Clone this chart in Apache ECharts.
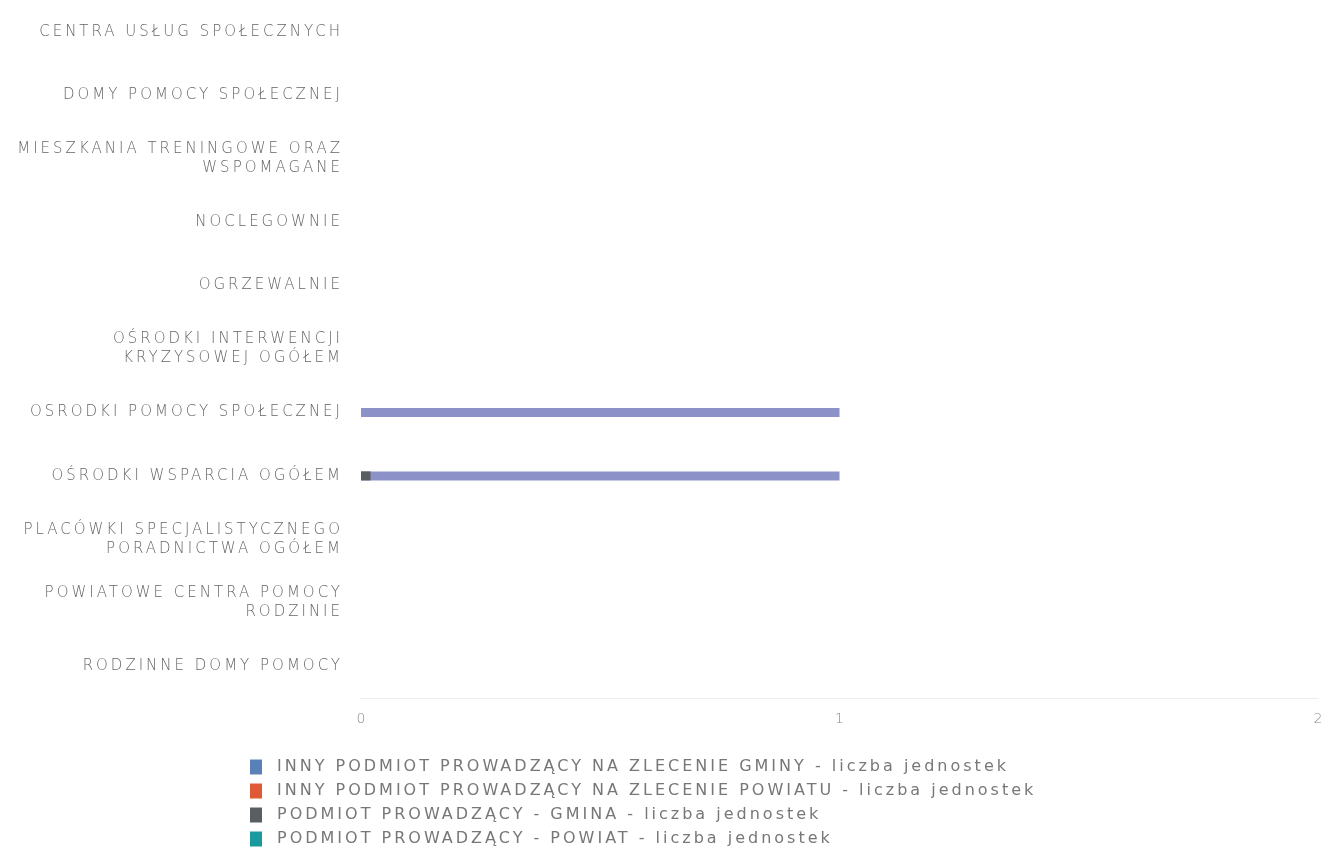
<!DOCTYPE html>
<html>
<head>
<meta charset="utf-8">
<script src="https://cdn.jsdelivr.net/npm/echarts@6/dist/echarts.min.js"></script>
<style>html,body{margin:0;padding:0;background:#fff}#c{width:1326px;height:850px}</style>
</head>
<body>
<div id="c"></div>
<script>
(function () {
  const proto = CanvasRenderingContext2D.prototype;
  const origFill = proto.fillText;
  proto.fillText = function (txt) {
    const spaced = ('letterSpacing' in this) && String(txt).length > 1;
    if (spaced) this.letterSpacing = '3px';
    const r = origFill.apply(this, arguments);
    if (spaced) this.letterSpacing = '0px';
    return r;
  };
})();

const categories = [
  'CENTRA USŁUG SPOŁECZNYCH',
  'DOMY POMOCY SPOŁECZNEJ',
  'MIESZKANIA TRENINGOWE ORAZ\nWSPOMAGANE',
  'NOCLEGOWNIE',
  'OGRZEWALNIE',
  'OŚRODKI INTERWENCJI\nKRYZYSOWEJ OGÓŁEM',
  'OSRODKI POMOCY SPOŁECZNEJ',
  'OŚRODKI WSPARCIA OGÓŁEM',
  'PLACÓWKI SPECJALISTYCZNEGO\nPORADNICTWA OGÓŁEM',
  'POWIATOWE CENTRA POMOCY\nRODZINIE',
  'RODZINNE DOMY POMOCY'
];
const seriesNames = [
  'INNY PODMIOT PROWADZĄCY NA ZLECENIE GMINY - liczba jednostek',
  'INNY PODMIOT PROWADZĄCY NA ZLECENIE POWIATU - liczba jednostek',
  'PODMIOT PROWADZĄCY - GMINA - liczba jednostek',
  'PODMIOT PROWADZĄCY - POWIAT - liczba jednostek'
];
const innyGmina  = [null, null, null, null, null, null, 1, 1, null, null, null];
const innyPowiat = [null, null, null, null, null, null, null, null, null, null, null];
const gmina      = [null, null, null, null, null, null, null, 0.02, null, null, null];
const powiat     = [null, null, null, null, null, null, null, null, null, null, null];
const xTicks = [0, 1, 2];

const legendColors = ['#5b80b8', '#e05a35', '#5a5e63', '#1a9a9e'];
const barColors = ['#8c91c8', '#e05a35', '#5a5e63', '#1a9a9e'];
const values = [innyGmina, innyPowiat, gmina, powiat];

const chart = echarts.init(document.getElementById('c'));
chart.setOption({
  animation: false,
  backgroundColor: '#fff',
  textStyle: { fontFamily: 'DejaVu Sans' },
  grid: { left: 361, right: 8, top: -2, height: 700 },
  xAxis: {
    type: 'value', min: xTicks[0], max: xTicks[xTicks.length - 1], interval: 1,
    axisLine: { show: true, lineStyle: { color: '#eeeeee' } },
    axisTick: { show: false },
    splitLine: { show: false },
    axisLabel: { color: '#888', fontSize: 14, margin: 14, fontFamily: 'DejaVu Sans', fontWeight: 300 }
  },
  yAxis: {
    type: 'category', data: categories, inverse: true,
    axisLine: { show: false }, axisTick: { show: false },
    axisLabel: { color: '#666', fontSize: 15, margin: 18, lineHeight: 19, fontFamily: 'DejaVu Sans', fontWeight: 300 }
  },
  legend: {
    orient: 'vertical', left: 250, top: 758, itemGap: 6, padding: 0,
    itemWidth: 12, itemHeight: 15, icon: 'rect',
    textStyle: { color: '#777', fontSize: 16, lineHeight: 18, fontFamily: 'DejaVu Sans', padding: [0, 0, 0, 10] },
    data: seriesNames.map((n, i) => ({ name: n, itemStyle: { color: legendColors[i] } }))
  },
  series: seriesNames.map((n, i) => ({
    name: n, type: 'bar', data: values[i],
    barWidth: 9, barGap: '-100%',
    itemStyle: { color: barColors[i] }
  }))
});
</script>
</body>
</html>
